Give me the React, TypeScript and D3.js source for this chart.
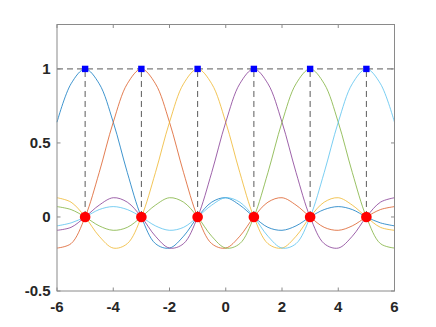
import React from 'react';
import * as d3 from 'd3';

const W = 436;
const H = 327;
const MARGIN = { top: 24.5, right: 41.5, bottom: 36, left: 57 };

// sample positions along x, read every half unit
const xs = [-6, -5.5, -5, -4.5, -4, -3.5, -3, -2.5, -2, -1.5, -1, -0.5, 0, 0.5, 1, 1.5, 2, 2.5, 3, 3.5, 4, 4.5, 5, 5.5, 6];

const blue = [0.64, 0.9, 1, 0.9, 0.64, 0.3, 0, -0.18, -0.21, -0.13, 0, 0.1, 0.13, 0.08, 0, -0.07, -0.09, -0.06, 0, 0.05, 0.07, 0.05, 0, -0.04, -0.06];
const red = [-0.21, -0.18, 0, 0.3, 0.64, 0.9, 1, 0.9, 0.64, 0.3, 0, -0.18, -0.21, -0.13, 0, 0.1, 0.13, 0.08, 0, -0.07, -0.09, -0.06, 0, 0.05, 0.07];
const yellow = [0.13, 0.1, 0, -0.13, -0.21, -0.18, 0, 0.3, 0.64, 0.9, 1, 0.9, 0.64, 0.3, 0, -0.18, -0.21, -0.13, 0, 0.1, 0.13, 0.08, 0, -0.07, -0.09];
const purple = [-0.09, -0.07, 0, 0.08, 0.13, 0.1, 0, -0.13, -0.21, -0.18, 0, 0.3, 0.64, 0.9, 1, 0.9, 0.64, 0.3, 0, -0.18, -0.21, -0.13, 0, 0.1, 0.13];
const green = [0.07, 0.05, 0, -0.06, -0.09, -0.07, 0, 0.08, 0.13, 0.1, 0, -0.13, -0.21, -0.18, 0, 0.3, 0.64, 0.9, 1, 0.9, 0.64, 0.3, 0, -0.18, -0.21];
const cyan = [-0.06, -0.04, 0, 0.05, 0.07, 0.05, 0, -0.06, -0.09, -0.07, 0, 0.08, 0.13, 0.1, 0, -0.13, -0.21, -0.18, 0, 0.3, 0.64, 0.9, 1, 0.9, 0.64];

const series = [blue, red, yellow, purple, green, cyan];
const colors = ['#0072BD', '#D95319', '#EDB120', '#7E2F8E', '#77AC30', '#4DBEEE'];

// interpolation nodes
const nodes = [-5, -3, -1, 1, 3, 5];

const xTicks = [-6, -4, -2, 0, 2, 4, 6];
const yTicks = [-0.5, 0, 0.5, 1];

export default function App() {
  const innerW = W - MARGIN.left - MARGIN.right;
  const innerH = H - MARGIN.top - MARGIN.bottom;
  const x = d3.scaleLinear().domain([-6, 6]).range([0, innerW]);
  const y = d3.scaleLinear().domain([-0.5, 1.3]).range([innerH, 0]);

  const line = d3.line<number>()
    .x((_, i) => x(xs[i]))
    .y((d) => y(d))
    .curve(d3.curveCatmullRom.alpha(0.5));

  const axisColor = '#8a8a8a';
  const tickLen = 3.5;
  const font = { fontFamily: '"Liberation Sans", Arial, sans-serif', fontWeight: 'bold' as const, fill: '#262626' };

  return <svg width={W} height={H} style={{ position: 'absolute', left: 0, top: 0, background: '#fff' }}>
    <rect width={W} height={H} fill='#fff' />
    <g transform={`translate(${MARGIN.left},${MARGIN.top})`}>
      {series.map((s, i) =>
        <path key={i} d={line(s) || ''} fill='none' stroke={colors[i]} strokeWidth={0.75} />
      )}
      <line x1={x(-6)} x2={x(6)} y1={y(1)} y2={y(1)} stroke='#5a5a5a' strokeWidth={1} strokeDasharray='6,4' />
      {nodes.map((n) =>
        <line key={n} x1={x(n)} x2={x(n)} y1={y(0)} y2={y(1)} stroke='#5a5a5a' strokeWidth={1} strokeDasharray='6,4' />
      )}
      {nodes.map((n) =>
        <circle key={'c' + n} cx={x(n)} cy={y(0)} r={5.3} fill='#ff0000' />
      )}
      {nodes.map((n) =>
        <rect key={'s' + n} x={x(n) - 3.2} y={y(1) - 3.2} width={6.4} height={6.4} fill='#0000ff' />
      )}
      {xTicks.map((t) =>
        <g key={'xt' + t}>
          <line x1={x(t)} x2={x(t)} y1={innerH} y2={innerH - tickLen} stroke={axisColor} />
          <line x1={x(t)} x2={x(t)} y1={0} y2={tickLen} stroke={axisColor} />
          <text x={x(t)} y={innerH + 21} textAnchor='middle' fontSize={15} style={font}>{t}</text>
        </g>
      )}
      {yTicks.map((t) =>
        <g key={'yt' + t}>
          <line x1={0} x2={tickLen} y1={y(t)} y2={y(t)} stroke={axisColor} />
          <line x1={innerW} x2={innerW - tickLen} y1={y(t)} y2={y(t)} stroke={axisColor} />
          <text x={-6.5} y={y(t)} dy='0.36em' textAnchor='end' fontSize={15} style={font}>{t}</text>
        </g>
      )}
      <rect x={0} y={0} width={innerW} height={innerH} fill='none' stroke={axisColor} strokeWidth={1} />
    </g>
  </svg>;
}
